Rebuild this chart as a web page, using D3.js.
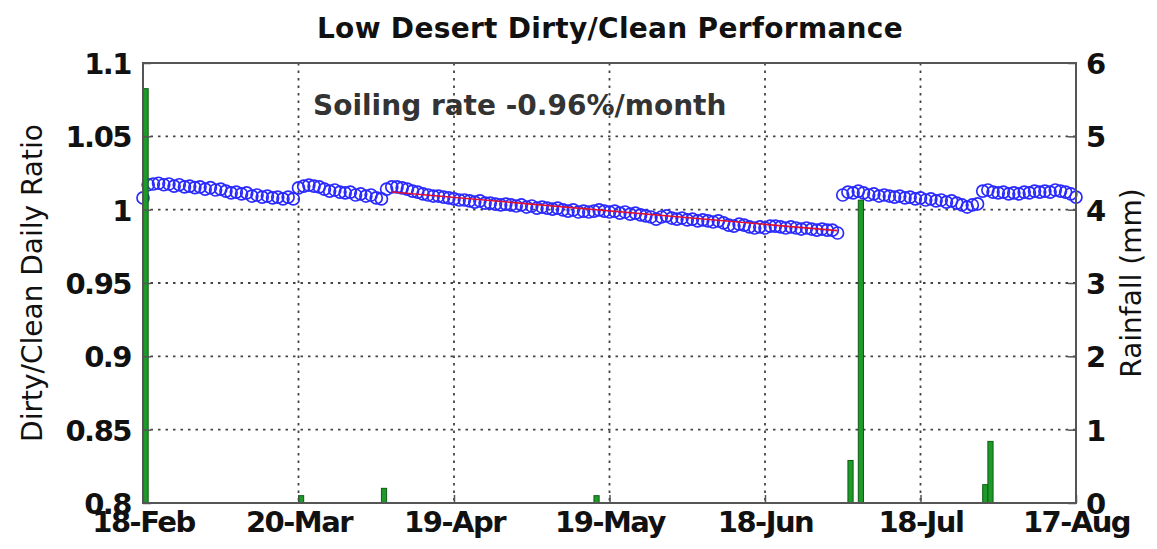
<!DOCTYPE html>
<html>
<head>
<meta charset="utf-8">
<script src="https://cdn.jsdelivr.net/npm/d3@7"></script>
<style>
  body { margin: 0; background: #fff; }
  text { font-family: "DejaVu Sans", "Liberation Sans", Arial, sans-serif; fill: #111; }
</style>
</head>
<body>
<div id="chart"></div>
<script>
// x axis: days counted from 18-Feb
const tickDays = [0, 30, 60, 90, 120, 150, 180];
const tickLabels = ["18-Feb", "20-Mar", "19-Apr", "19-May", "18-Jun", "18-Jul", "17-Aug"];

// daily dirty/clean ratio, day 0..180
const ratio = [
  1.008, 1.017, 1.0175, 1.018, 1.017, 1.0175, 1.016, 1.017, 1.0155, 1.016,
  1.015, 1.0155, 1.014, 1.015, 1.0134, 1.014, 1.0127, 1.0114, 1.012, 1.0107,
  1.0114, 1.0093, 1.010, 1.0086, 1.0093, 1.008, 1.0086, 1.0073, 1.0086, 1.0073,
  1.0148, 1.016, 1.0168, 1.016, 1.0155, 1.014, 1.0127, 1.0134, 1.012, 1.0114,
  1.012, 1.010, 1.0107, 1.0093, 1.010, 1.008, 1.0073, 1.014, 1.0155, 1.0155,
  1.0148, 1.014, 1.0127, 1.012, 1.0107, 1.010, 1.0093, 1.0093, 1.0086, 1.008,
  1.0073, 1.0066, 1.0066, 1.006, 1.0052, 1.006, 1.0045, 1.0045, 1.0038, 1.0032,
  1.0038, 1.0032, 1.0025, 1.0032, 1.0018, 1.0025, 1.001, 1.0018, 1.001, 1.0004,
  1.001, 0.9998, 0.999, 0.9998, 0.9984, 0.999, 0.9984, 0.999, 0.9998, 0.999,
  0.9984, 0.999, 0.9977, 0.9984, 0.997, 0.9977, 0.9964, 0.9957, 0.995, 0.9936,
  0.995, 0.9957, 0.9943, 0.9936, 0.9943, 0.993, 0.9936, 0.9923, 0.993, 0.9923,
  0.9916, 0.9923, 0.991, 0.9895, 0.9888, 0.9902, 0.9895, 0.9882, 0.9875, 0.9882,
  0.9875, 0.9888, 0.9888, 0.9882, 0.9875, 0.9882, 0.9875, 0.9868, 0.9875, 0.9868,
  0.986, 0.9868, 0.986, 0.9861, 0.9841, 1.010, 1.012, 1.0114, 1.0127, 1.0114,
  1.010, 1.0107, 1.0093, 1.010, 1.0093, 1.0086, 1.0093, 1.008, 1.0086, 1.0073,
  1.008, 1.0066, 1.0073, 1.006, 1.0066, 1.0052, 1.006, 1.0045, 1.0032, 1.0018,
  1.0032, 1.0039, 1.0127, 1.0134, 1.012, 1.0114, 1.012, 1.0107, 1.0114, 1.0107,
  1.012, 1.0114, 1.0127, 1.012, 1.0127, 1.012, 1.0134, 1.0127, 1.012, 1.0107,
  1.0086
];

// rainfall events (mm)
const rainDays = [0, 30, 46, 87, 136, 138, 162, 163];
const rainMm = [5.65, 0.1, 0.2, 0.1, 0.58, 4.13, 0.25, 0.84];

// linear fit shown in red
const fitDays = [48, 134];
const fitRatio = [1.012, 0.9857];

const width = 1157;
const height = 549;
const mLeft = 143, mRight = 1076, mTop = 63, mBottom = 503;

const svg = d3.select("#chart").append("svg")
  .attr("width", width)
  .attr("height", height);

const x = d3.scaleLinear().domain([0, 180]).range([mLeft, mRight]);
const y = d3.scaleLinear().domain([0.8, 1.1]).range([mBottom, mTop]);
const y2 = d3.scaleLinear().domain([0, 6]).range([mBottom, mTop]);

// grid
const grid = svg.append("g").attr("stroke", "#444").attr("stroke-width", 1.8)
  .attr("stroke-dasharray", "2.5,5");
grid.selectAll(".gx").data(tickDays.slice(1, -1)).enter().append("line")
  .attr("x1", d => x(d)).attr("x2", d => x(d))
  .attr("y1", mTop).attr("y2", mBottom);
grid.selectAll(".gy").data([0.85, 0.9, 0.95, 1.0, 1.05]).enter().append("line")
  .attr("x1", mLeft).attr("x2", mRight)
  .attr("y1", d => y(d)).attr("y2", d => y(d));

// ratio circles
svg.append("g").selectAll("circle")
  .data(ratio)
  .enter().append("circle")
  .attr("cx", (d, i) => x(i))
  .attr("cy", d => y(d))
  .attr("r", 6)
  .attr("fill", "none")
  .attr("stroke", "#2a2aff")
  .attr("stroke-width", 1.7);

// fit line
svg.append("line")
  .attr("x1", x(fitDays[0])).attr("y1", y(fitRatio[0]))
  .attr("x2", x(fitDays[1])).attr("y2", y(fitRatio[1]))
  .attr("stroke", "#e01030").attr("stroke-width", 1.6);

// rain bars
const barW = x(1) - x(0);
svg.append("g").selectAll("rect")
  .data(rainDays)
  .enter().append("rect")
  .attr("x", (d, i) => x(d))
  .attr("y", (d, i) => y2(rainMm[i]))
  .attr("width", barW)
  .attr("height", (d, i) => mBottom - y2(rainMm[i]))
  .attr("fill", "#1f9a2a")
  .attr("stroke", "#0d5e12")
  .attr("stroke-width", 1);

// box
svg.append("rect")
  .attr("x", mLeft).attr("y", mTop)
  .attr("width", mRight - mLeft).attr("height", mBottom - mTop)
  .attr("fill", "none").attr("stroke", "#555").attr("stroke-width", 2);

// axes
const axL = svg.append("g").attr("transform", `translate(${mLeft},0)`)
  .call(d3.axisLeft(y).tickValues([0.8, 0.85, 0.9, 0.95, 1.0, 1.05, 1.1])
    .tickFormat(d => String(+d.toFixed(2))).tickSizeInner(-8).tickSizeOuter(0).tickPadding(12));
const axR = svg.append("g").attr("transform", `translate(${mRight},0)`)
  .call(d3.axisRight(y2).ticks(6).tickSizeInner(-8).tickSizeOuter(0).tickPadding(10));
const axB = svg.append("g").attr("transform", `translate(0,${mBottom})`)
  .call(d3.axisBottom(x).tickValues(tickDays).tickFormat((d, i) => tickLabels[i])
    .tickSizeInner(-8).tickSizeOuter(0).tickPadding(8));

[axL, axR, axB].forEach(a => {
  a.select(".domain").remove();
  a.selectAll(".tick line").attr("stroke", "#555").attr("stroke-width", 1.5);
  a.selectAll("text")
    .attr("font-family", "'DejaVu Sans', 'Liberation Sans', Arial, sans-serif")
    .attr("font-weight", "bold")
    .attr("font-size", 29)
    .attr("letter-spacing", -1.5)
    .attr("fill", "#111");
});
axL.selectAll("text").attr("dy", "0.36em");
axR.selectAll("text").attr("dy", "0.36em");
axB.selectAll("text").attr("dy", "0.72em");

// title
svg.append("text")
  .attr("x", 610).attr("y", 38)
  .attr("text-anchor", "middle")
  .attr("font-size", 28).attr("font-weight", "bold")
  .attr("letter-spacing", 0.3)
  .text("Low Desert Dirty/Clean Performance");

// annotation
svg.append("text")
  .attr("x", 313).attr("y", 115)
  .attr("font-size", 28)
  .attr("font-weight", "bold")
  .style("fill", "#333")
  .text("Soiling rate -0.96%/month");

// y labels
svg.append("text")
  .attr("transform", "translate(42,283) rotate(-90)")
  .attr("text-anchor", "middle")
  .attr("font-size", 28)
  .text("Dirty/Clean Daily Ratio");

svg.append("text")
  .attr("transform", "translate(1141,283) rotate(-90)")
  .attr("text-anchor", "middle")
  .attr("font-size", 28)
  .text("Rainfall (mm)");
</script>
</body>
</html>
